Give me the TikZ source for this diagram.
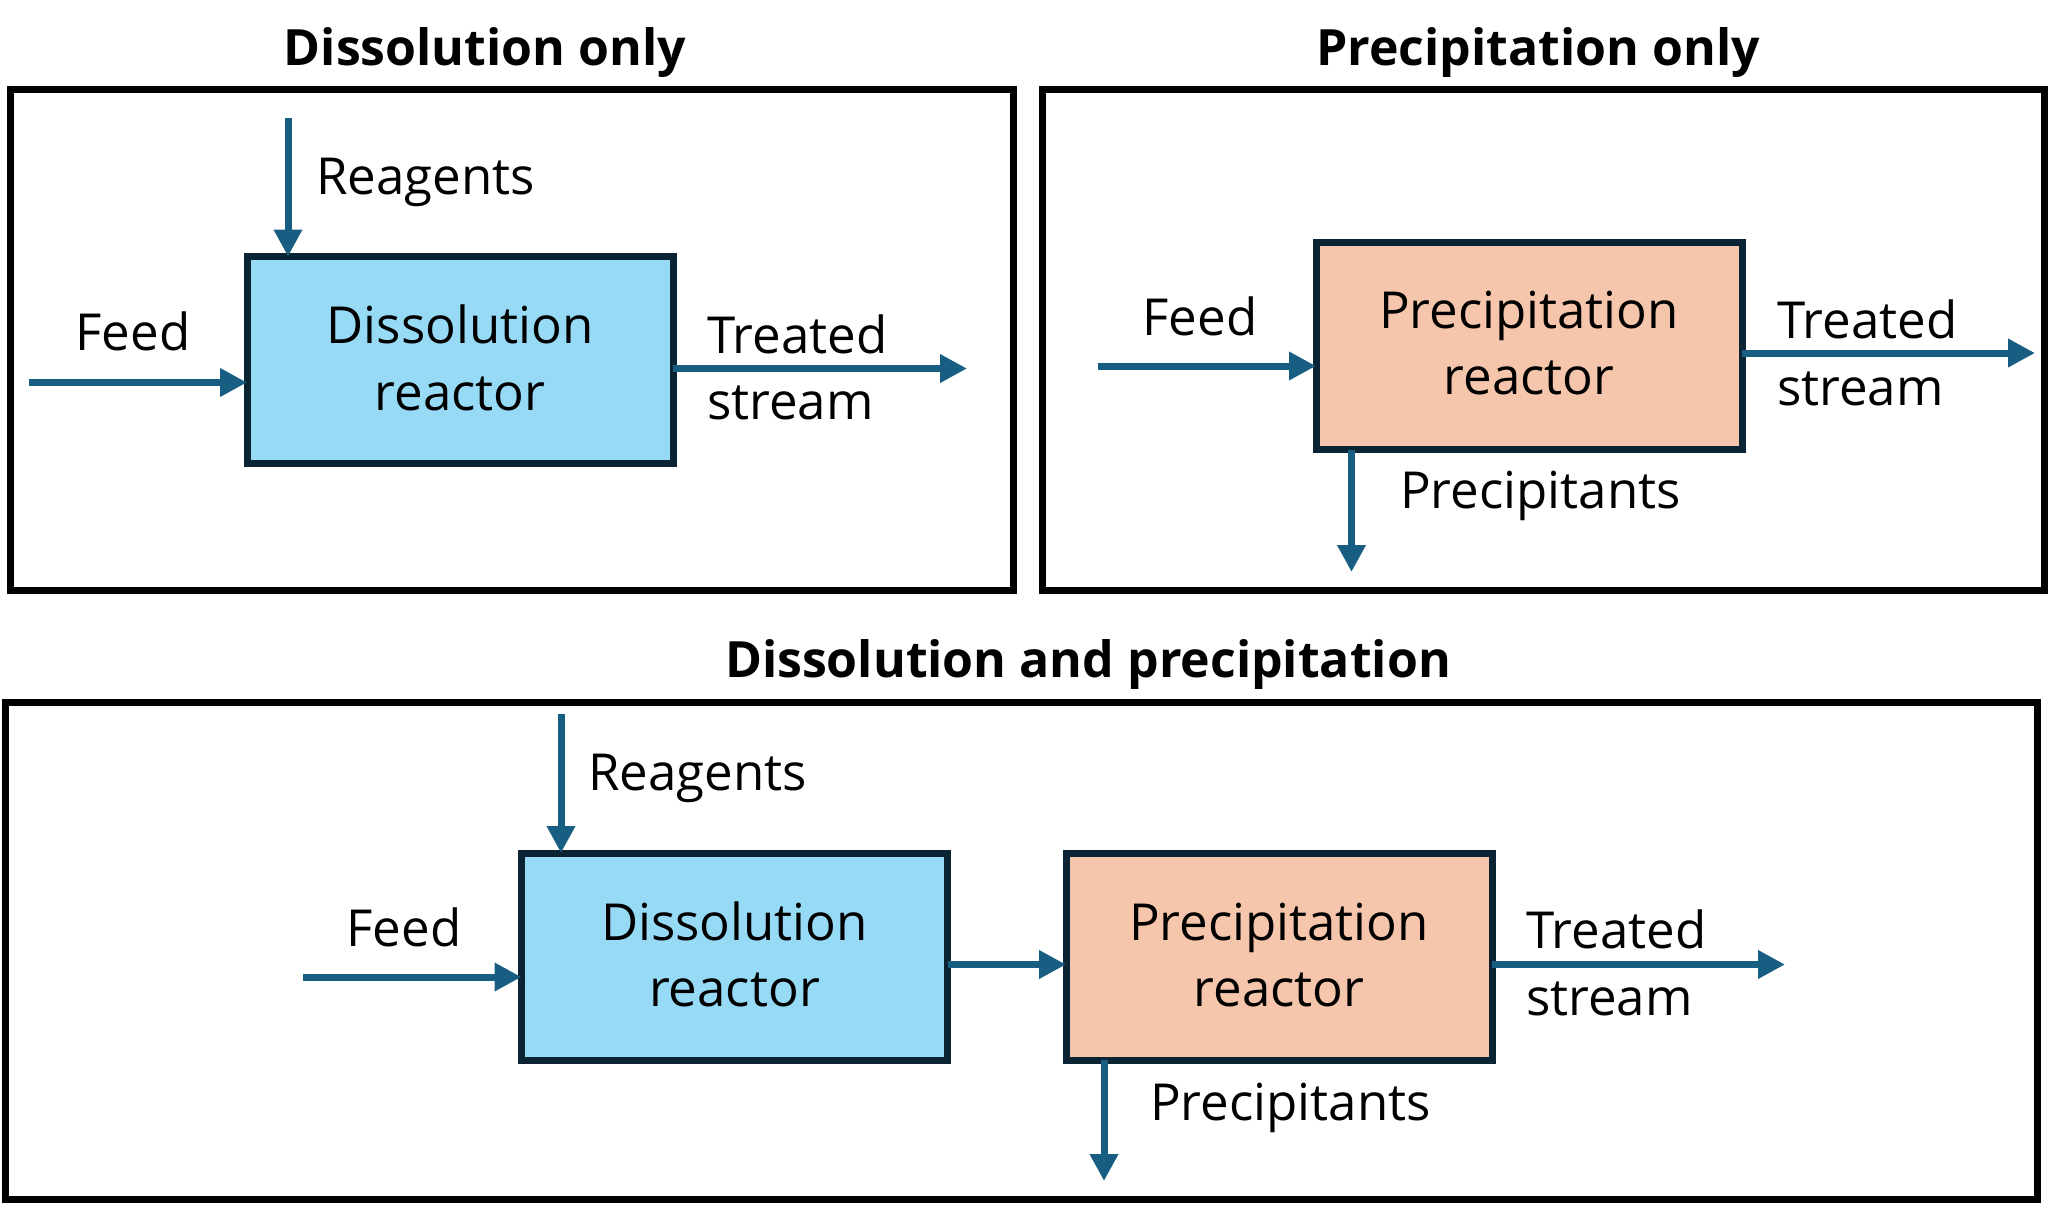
\documentclass[tikz,border=0pt]{standalone}
\usepackage{fontspec}
\setmainfont{Open Sans}
\usetikzlibrary{arrows.meta}
\definecolor{flow}{HTML}{185E82}
\definecolor{dissfill}{HTML}{97DAF6}
\definecolor{precfill}{HTML}{F5C6AB}
\definecolor{boxline}{HTML}{0A2434}
\tikzset{
  panel/.style={draw=black, line width=7pt},
  reactor/.style={draw=boxline, line width=7pt, minimum width=426pt, minimum height=207pt, inner sep=0pt, outer sep=0pt},
  dissbox/.style={reactor, fill=dissfill},
  precbox/.style={reactor, fill=precfill},
  flowarrow/.style={draw=flow, line width=7pt, -{Triangle[length=27pt,width=27pt]}},
  lbl/.style={inner sep=0pt, font=\fontsize{51}{66}\selectfont},
  title/.style={inner sep=0pt, font=\fontsize{50}{66}\selectfont\bfseries, anchor=base},
  boxtext/.style={align=center, font=\fontsize{51}{66}\selectfont}
}
\begin{document}
\begin{tikzpicture}[x=1pt,y=-1pt]
\useasboundingbox (0,0) rectangle (2065,1212);
\fill[white] (0,0) rectangle (2065,1212);

% ---------------- Panel 1 ----------------
\node[title] (t1) at (485,66) {Dissolution only};
\draw[panel] (10.5,89.5) rectangle (1013.5,590);
\node[dissbox] (dr1) at (460,360) {};
\node[lbl, anchor=base] (dr1a) at (460,343) {Dissolution};
\node[lbl, anchor=base] (dr1b) at (460,410) {reactor};
\coordinate (rg1) at (288,118);
\coordinate (fd1) at (29,382.5);
\coordinate (ts1) at (967,368.5);
\draw[flowarrow] (rg1) -- (rg1 |- dr1.north);
\draw[flowarrow] (fd1) -- (fd1 -| dr1.west);
\draw[flowarrow] (ts1 -| dr1.east) -- (ts1);
\node[lbl, anchor=base west] (lrg1) at (316,194) {Reagents};
\node[lbl, anchor=base] (lfd1) at (133,350) {Feed};
\node[lbl, anchor=base west] (ltr1) at (707,353) {Treated};
\node[lbl, anchor=base west] (lst1) at (707,419) {stream};

% ---------------- Panel 2 ----------------
\node[title] (t2) at (1538,66) {Precipitation only};
\draw[panel] (1042,89.5) rectangle (2044.5,590);
\node[precbox] (pr2) at (1529,346) {};
\node[lbl, anchor=base] (pr2a) at (1529,328) {Precipitation};
\node[lbl, anchor=base] (pr2b) at (1529,394) {reactor};
\coordinate (fd2) at (1098,366);
\coordinate (ts2) at (2035,353);
\coordinate (pp2) at (1351.5,572);
\draw[flowarrow] (fd2) -- (fd2 -| pr2.west);
\draw[flowarrow] (ts2 -| pr2.east) -- (ts2);
\draw[flowarrow] (pp2 |- pr2.south) -- (pp2);
\node[lbl, anchor=base] (lfd2) at (1200,335) {Feed};
\node[lbl, anchor=base west] (ltr2) at (1777,338) {Treated};
\node[lbl, anchor=base west] (lst2) at (1777,405) {stream};
\node[lbl, anchor=base west] (lpp2) at (1400,508) {Precipitants};

% ---------------- Panel 3 ----------------
\node[title] (t3) at (1088,677) {Dissolution and precipitation};
\draw[panel] (5,702.5) rectangle (2037.5,1199);
\node[dissbox] (dr3) at (734.5,956.5) {};
\node[precbox] (pr3) at (1279,956.5) {};
\node[lbl, anchor=base] (dr3a) at (734.5,940) {Dissolution};
\node[lbl, anchor=base] (dr3b) at (734.5,1006) {reactor};
\node[lbl, anchor=base] (pr3a) at (1279,940) {Precipitation};
\node[lbl, anchor=base] (pr3b) at (1279,1006) {reactor};
\coordinate (rg3) at (561,714);
\coordinate (fd3) at (303,977);
\coordinate (ts3) at (1785,964.5);
\coordinate (pp3) at (1104,1181);
\draw[flowarrow] (rg3) -- (rg3 |- dr3.north);
\draw[flowarrow] (fd3) -- (fd3 -| dr3.west);
\draw[flowarrow] (ts3 -| dr3.east) -- (ts3 -| pr3.west);
\draw[flowarrow] (ts3 -| pr3.east) -- (ts3);
\draw[flowarrow] (pp3 |- pr3.south) -- (pp3);
\node[lbl, anchor=base west] (lrg3) at (588,790) {Reagents};
\node[lbl, anchor=base] (lfd3) at (404,946) {Feed};
\node[lbl, anchor=base west] (ltr3) at (1526,948) {Treated};
\node[lbl, anchor=base west] (lst3) at (1526,1015) {stream};
\node[lbl, anchor=base west] (lpp3) at (1150,1120) {Precipitants};
\end{tikzpicture}
\end{document}
